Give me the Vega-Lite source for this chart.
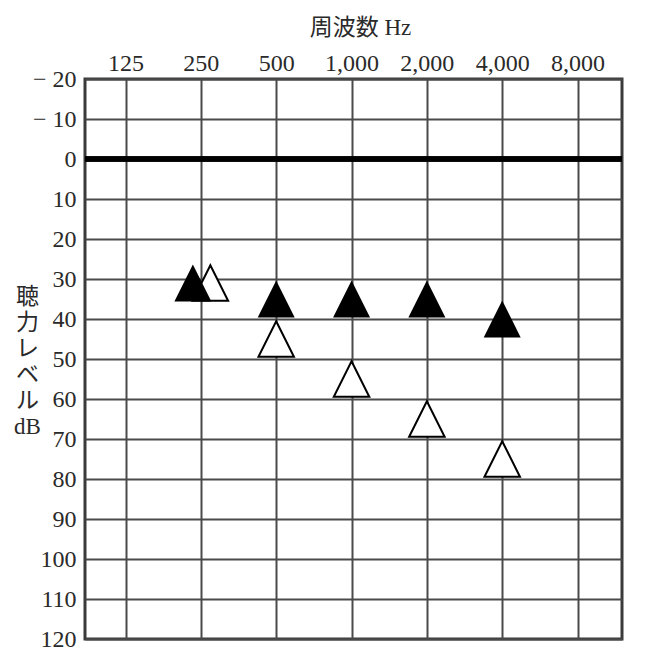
{
  "$schema": "https://vega.github.io/schema/vega-lite/v6.json",
  "autosize": "none",
  "width": 537,
  "height": 560,
  "padding": {"left": 85, "top": 79, "right": 26, "bottom": 21},
  "background": "white",
  "config": {
    "view": {"stroke": "#3a3a3a", "strokeWidth": 3},
    "font": "Liberation Serif, Noto Sans CJK JP"
  },
  "data": {
    "values": [
      {"freq": 250, "level": 31, "symbol": "filled"},
      {"freq": 500, "level": 35, "symbol": "filled"},
      {"freq": 1000, "level": 35, "symbol": "filled"},
      {"freq": 2000, "level": 35, "symbol": "filled"},
      {"freq": 4000, "level": 40, "symbol": "filled"},
      {"freq": 250, "level": 31, "symbol": "open"},
      {"freq": 500, "level": 45, "symbol": "open"},
      {"freq": 1000, "level": 55, "symbol": "open"},
      {"freq": 2000, "level": 65, "symbol": "open"},
      {"freq": 4000, "level": 75, "symbol": "open"}
    ]
  },
  "encoding": {
    "x": {
      "field": "freq",
      "type": "quantitative",
      "scale": {"type": "log", "domain": [86.1, 12042], "nice": false, "zero": false},
      "axis": {
        "orient": "top",
        "title": "周波数 Hz",
        "titleFont": "Liberation Serif, Noto Sans CJK JP",
        "titleFontSize": 23,
        "titleFontWeight": "normal",
        "titleColor": "#2a2a2a",
        "titleX": 275,
        "titleY": -45,
        "titleBaseline": "alphabetic",
        "titleAnchor": "middle",
        "titleAlign": "center",
        "values": [125, 250, 500, 1000, 2000, 4000, 8000],
        "format": ",",
        "labelFont": "Liberation Serif",
        "labelFontSize": 24,
        "labelColor": "#2a2a2a",
        "labelBaseline": "alphabetic",
        "labelPadding": 9,
        "labelFlush": false,
        "labelOverlap": false,
        "ticks": false,
        "domain": false,
        "grid": true,
        "gridColor": "#4a4a4a",
        "gridWidth": 2,
        "gridOpacity": 1
      }
    },
    "y": {
      "field": "level",
      "type": "quantitative",
      "scale": {"domain": [-20, 120], "reverse": true, "nice": false, "zero": false},
      "axis": {
        "orient": "left",
        "title": ["聴", "力", "レ", "ベ", "ル", "dB"],
        "titleFont": "Liberation Serif, Noto Sans CJK JP",
        "titleFontSize": 23,
        "titleFontWeight": "normal",
        "titleColor": "#2a2a2a",
        "titleAngle": 0,
        "titleAlign": "center",
        "titleBaseline": "top",
        "titleLineHeight": 26,
        "titleX": -58,
        "titleY": 206,
        "values": [-20, -10, 0, 10, 20, 30, 40, 50, 60, 70, 80, 90, 100, 110, 120],
        "labelExpr": "datum.value < 0 ? '− ' + (-datum.value) : '' + datum.value",
        "labelFont": "Liberation Serif",
        "labelFontSize": 24,
        "labelColor": "#2a2a2a",
        "labelPadding": 9,
        "labelFlush": false,
        "labelOverlap": false,
        "ticks": false,
        "domain": false,
        "grid": true,
        "gridColor": "#4a4a4a",
        "gridWidth": 2,
        "gridOpacity": 1
      }
    }
  },
  "layer": [
    {
      "mark": {"type": "rule", "color": "#000", "strokeWidth": 4.5},
      "encoding": {"y": {"datum": 0}, "x": {"value": 0}, "x2": {"value": 537}}
    },
    {
      "transform": [{"filter": "datum.symbol == 'open' && datum.freq != 250"}],
      "mark": {"type": "point", "shape": "M0,-1L1,1L-1,1Z", "size": 1260, "filled": true, "fill": "white", "stroke": "black", "strokeWidth": 2, "opacity": 1}
    },
    {
      "transform": [{"filter": "datum.symbol == 'open' && datum.freq == 250"}],
      "mark": {"type": "point", "shape": "M0,-1L1,1L-1,1Z", "size": 1260, "filled": true, "fill": "white", "stroke": "black", "strokeWidth": 2, "opacity": 1, "xOffset": 9.5}
    },
    {
      "transform": [{"filter": "datum.symbol == 'filled' && datum.freq != 250"}],
      "mark": {"type": "point", "shape": "M0,-1L1,1L-1,1Z", "size": 1369, "filled": true, "fill": "black", "strokeWidth": 0, "opacity": 1}
    },
    {
      "transform": [{"filter": "datum.symbol == 'filled' && datum.freq == 250"}],
      "mark": {"type": "point", "shape": "M0,-1L1,1L-1,1Z", "size": 1369, "filled": true, "fill": "black", "strokeWidth": 0, "opacity": 1, "xOffset": -8}
    }
  ]
}
